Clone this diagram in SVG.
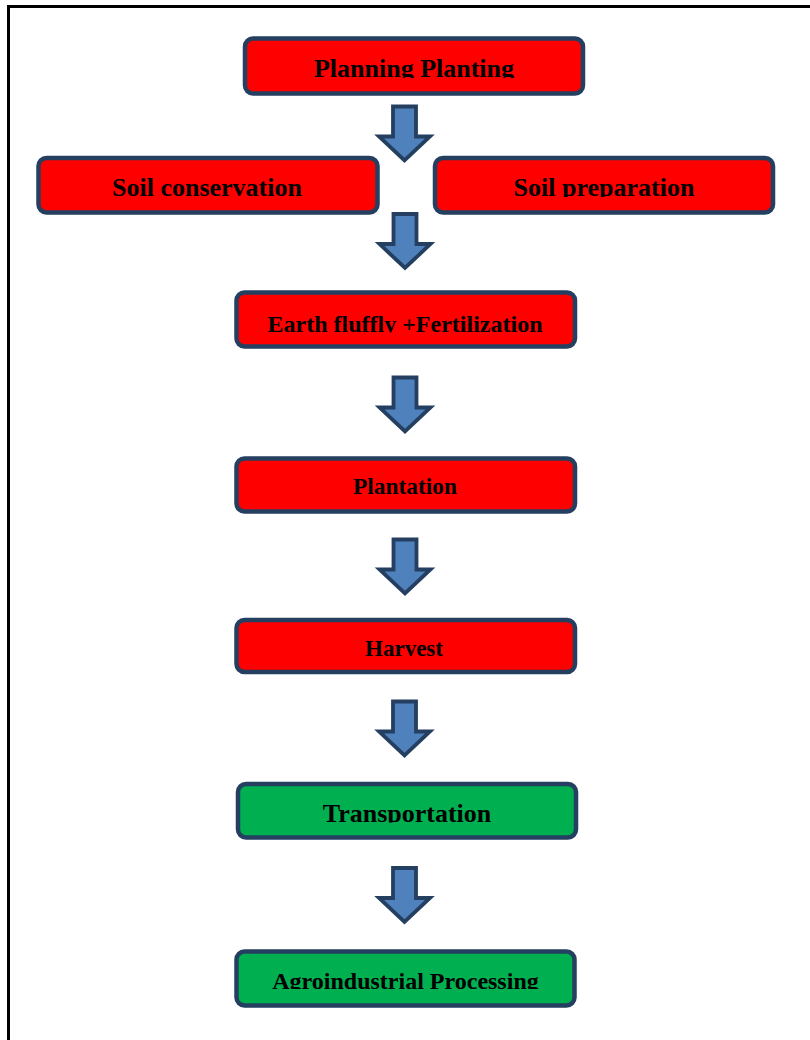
<svg xmlns="http://www.w3.org/2000/svg" width="810" height="1040" viewBox="0 0 810 1040">
<style>
.frame{fill:none;stroke:#000;stroke-width:3}
.box{stroke:#243F60;stroke-width:4.5}
.red{fill:#FF0000}
.green{fill:#00B050}
.lbl{font-family:"Liberation Serif","Times New Roman",serif;font-weight:bold;fill:#000;text-anchor:middle}
.arr{fill:#4F81BD;stroke:#243F60;stroke-width:3.8;stroke-linejoin:miter}
</style>
<defs>
<path id="arrow" d="M-11.5,0 H11.5 V30 H25.5 L0,54 L-25.5,30 H-11.5 Z"/>
<clipPath id="c1"><rect x="240" y="40" width="350" height="38"/></clipPath>
<clipPath id="c2"><rect x="30" y="160" width="360" height="37"/></clipPath>
<clipPath id="c3"><rect x="430" y="160" width="350" height="37"/></clipPath>
<clipPath id="c4"><rect x="230" y="295" width="350" height="37.5"/></clipPath>
<clipPath id="c5"><rect x="230" y="785" width="350" height="37.5"/></clipPath>
<clipPath id="c6"><rect x="230" y="953" width="350" height="36"/></clipPath>
</defs>
<rect class="frame" x="8.5" y="6.5" width="820" height="1060"/>
<g id="connectors">
<use href="#arrow" class="arr" x="404.5" y="106.5"/>
<use href="#arrow" class="arr" x="405" y="214"/>
<use href="#arrow" class="arr" x="405" y="377.5"/>
<use href="#arrow" class="arr" x="405" y="539.5"/>
<use href="#arrow" class="arr" x="404.5" y="701.5"/>
<use href="#arrow" class="arr" x="404.5" y="868"/>
</g>
<g id="planning">
<rect class="box red" x="245" y="38.5" width="338" height="55" rx="8"/>
<text class="lbl" x="414" y="77" font-size="26" clip-path="url(#c1)">Planning Planting</text>
</g>
<g id="soil-conservation">
<rect class="box red" x="38.5" y="158" width="339" height="54.5" rx="8"/>
<text class="lbl" x="207" y="196" font-size="26" clip-path="url(#c2)">Soil conservation</text>
</g>
<g id="soil-preparation">
<rect class="box red" x="435" y="158" width="338" height="54.5" rx="8"/>
<text class="lbl" x="604" y="196" font-size="26" clip-path="url(#c3)">Soil preparation</text>
</g>
<g id="earth">
<rect class="box red" x="236.5" y="292.5" width="338.5" height="54" rx="8"/>
<text class="lbl" x="405" y="332" font-size="24" clip-path="url(#c4)">Earth fluffly +Fertilization</text>
</g>
<g id="plantation">
<rect class="box red" x="236.5" y="458.5" width="338.5" height="53" rx="8"/>
<text class="lbl" x="405" y="494" font-size="23.4">Plantation</text>
</g>
<g id="harvest">
<rect class="box red" x="236.5" y="620" width="338.5" height="52" rx="8"/>
<text class="lbl" x="404" y="656" font-size="23">Harvest</text>
</g>
<g id="transportation">
<rect class="box green" x="238" y="784" width="338" height="53.5" rx="8"/>
<text class="lbl" x="407" y="822" font-size="26" clip-path="url(#c5)">Transportation</text>
</g>
<g id="agroindustrial">
<rect class="box green" x="236.5" y="951.5" width="338" height="54" rx="8"/>
<text class="lbl" x="405.5" y="988.5" font-size="24" clip-path="url(#c6)">Agroindustrial Processing</text>
</g>
</svg>
